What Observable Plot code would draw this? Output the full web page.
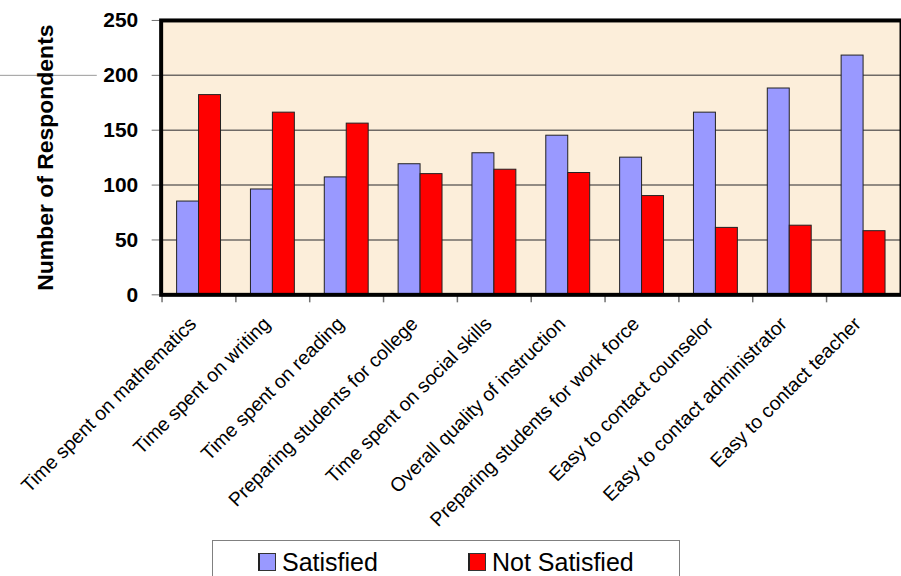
<!DOCTYPE html>
<html><head><meta charset="utf-8">
<script src="https://cdn.jsdelivr.net/npm/d3@7"></script>
<script src="https://cdn.jsdelivr.net/npm/@observablehq/plot@0.6"></script>
<style>
body{margin:0;background:#fff;font-family:"Liberation Sans",Arial,sans-serif;}
#wrap{position:relative;width:901px;height:576px;overflow:hidden;background:#fff}
#chart{position:absolute;left:0;top:0}
#legend{position:absolute;left:212px;top:540px;width:468px;height:60px;border:1.5px solid #808080;box-sizing:border-box;background:#fff}
.item{position:absolute;top:10px;height:22px;font-size:25px;line-height:22px;display:flex;align-items:center;color:#000}
.sw{width:18px;height:18px;margin-right:6px;box-sizing:border-box;border:1px solid #333;border-left:2px solid #222}
</style></head>
<body><div id="wrap"><div id="chart"></div><div id="legend"></div></div>
<script>
const categories = [
  "Time spent on mathematics",
  "Time spent on writing",
  "Time spent on reading",
  "Preparing students for college",
  "Time spent on social skills",
  "Overall quality of instruction",
  "Preparing students for work force",
  "Easy to contact counselor",
  "Easy to contact administrator",
  "Easy to contact teacher"
];
const series = ["Satisfied", "Not Satisfied"];
const satisfied = [85, 96, 107, 119, 129, 145, 125, 166, 188, 218];
const notSatisfied = [182, 166, 156, 110, 114, 111, 90, 61, 63, 58];
const yTicks = [0, 50, 100, 150, 200, 250];
const gridValues = [50, 100, 150, 200];
const seriesColors = ["#9999FF", "#FF0000"];

const satData = categories.map((c, i) => ({category: c, series: series[0], value: satisfied[i]}));
const notData = categories.map((c, i) => ({category: c, series: series[1], value: notSatisfied[i]}));

const W = 903, H = 540, mL = 161, mR = 0, mT = 20, mB = H - 295;
const step = (W - mL - mR) / categories.length;
const pInner = 1 - 22 / 74.2;
const half = step * (1 - pInner) / 2;

const chart = Plot.plot({
  width: W, height: H,
  marginLeft: mL, marginRight: mR, marginTop: mT, marginBottom: mB,
  style: {fontFamily: '"Liberation Sans", Arial, sans-serif', background: "white", overflow: "visible"},
  x: {domain: categories, type: "band", paddingInner: pInner, paddingOuter: pInner / 2, axis: null},
  y: {domain: [0, 250], axis: null},
  marks: [
    Plot.frame({fill: "#FCEEDA", stroke: null}),
    Plot.ruleY(gridValues, {stroke: "#6f6a66", strokeWidth: 1.5}),
    Plot.ruleY([200], {stroke: "#9a9a9a", strokeWidth: 1, insetLeft: -mL, insetRight: W - mR - 97}),
    Plot.barY(satData, {x: "category", y: "value", dx: -half, fill: seriesColors[0], stroke: "#222", strokeWidth: 1}),
    Plot.barY(notData, {x: "category", y: "value", dx: half, fill: seriesColors[1], stroke: "#222", strokeWidth: 1}),
    Plot.ruleX(categories, {x: d => d, dx: -step / 2, y1: 0, y2: 0, insetBottom: -8, stroke: "#707070", strokeWidth: 1.5}),
    Plot.axisY({ticks: yTicks, tickSize: 9, tickPadding: 14, fontSize: 21, fontWeight: "bold",
      stroke: "#707070", fill: "black", label: null}),
    Plot.axisY({ticks: [], tickSize: 0, fontSize: 23, fontWeight: "bold", fill: "black",
      label: "Number of Respondents", labelAnchor: "center", labelArrow: "none", labelOffset: 125}),
    Plot.axisX({tickRotate: -45, tickSize: 0, tickPadding: 26, fontSize: 19.5, label: null, dx: -6, fill: "black"}),
    Plot.frame({stroke: "black", strokeWidth: 4})
  ]
});
document.getElementById("chart").appendChild(chart);

const legend = document.getElementById("legend");
const legendLeft = [45, 255];
series.forEach((s, i) => {
  const item = document.createElement("div");
  item.className = "item";
  item.style.left = legendLeft[i] + "px";
  const sw = document.createElement("span");
  sw.className = "sw";
  sw.style.background = seriesColors[i];
  const t = document.createElement("span");
  t.textContent = s;
  item.appendChild(sw);
  item.appendChild(t);
  legend.appendChild(item);
});
</script>
</body></html>
